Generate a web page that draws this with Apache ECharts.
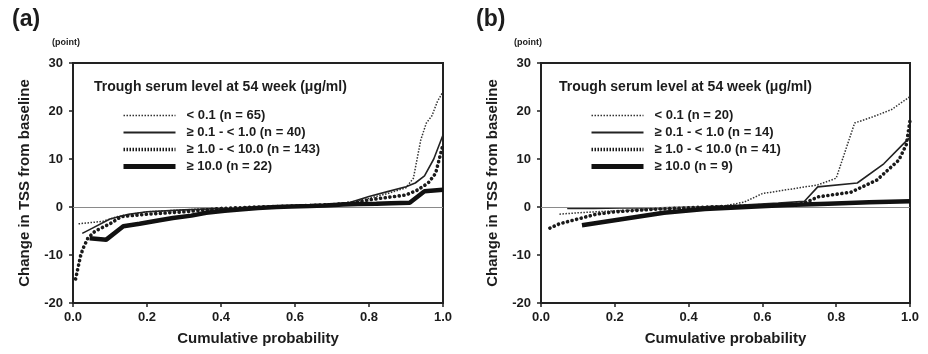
<!DOCTYPE html>
<html>
<head>
<meta charset="utf-8">
<script src="https://cdn.jsdelivr.net/npm/echarts@6/dist/echarts.min.js"></script>
<style>
html,body{margin:0;padding:0;background:#fff;}
#c{width:928px;height:354px;}
</style>
</head>
<body>
<div id="c"></div>
<script>
// ---- tick labels ----
const xTicks = [0.0, 0.2, 0.4, 0.6, 0.8, 1.0];
const yTicks = [-20, -10, 0, 10, 20, 30];

// ---- panel (a) series names ----
const namesA = ['< 0.1 (n = 65)', '≥ 0.1 - < 1.0 (n = 40)', '≥ 1.0 - < 10.0 (n = 143)', '≥ 10.0 (n = 22)'];
// ---- panel (b) series names ----
const namesB = ['< 0.1 (n = 20)', '≥ 0.1 - < 1.0 (n = 14)', '≥ 1.0 - < 10.0 (n = 41)', '≥ 10.0 (n = 9)'];

// ---- panel (a) data: [cumulative probability, change in TSS] ----
const a_lt01 = [[0.015,-3.5],[0.08,-3.0],[0.12,-2.0],[0.2,-1.0],[0.3,-0.6],[0.4,-0.2],[0.5,0],[0.6,0.2],[0.7,0.5],[0.75,1.0],[0.8,1.8],[0.85,2.8],[0.9,4.0],[0.92,6.0],[0.94,14.0],[0.955,17.5],[0.97,19.0],[0.985,22.0],[1.0,24.0]];
const a_01to1 = [[0.025,-5.5],[0.05,-4.5],[0.1,-2.5],[0.15,-1.5],[0.2,-1.0],[0.3,-0.6],[0.4,-0.3],[0.5,0],[0.6,0.2],[0.7,0.5],[0.75,1.0],[0.8,2.2],[0.85,3.2],[0.9,4.2],[0.925,5.0],[0.95,6.5],[0.975,10.0],[1.0,15.0]];
const a_1to10 = [[0.007,-15],[0.014,-12.5],[0.021,-10],[0.028,-8.5],[0.04,-6.5],[0.06,-5],[0.1,-3.5],[0.13,-2],[0.2,-1.5],[0.3,-1],[0.4,-0.3],[0.5,0],[0.6,0.2],[0.7,0.5],[0.75,0.8],[0.8,1.5],[0.85,2],[0.9,2.5],[0.93,3.5],[0.96,5],[0.98,7],[0.99,10],[1.0,13]];
const a_ge10 = [[0.045,-6.5],[0.09,-6.8],[0.136,-4.0],[0.18,-3.5],[0.23,-2.8],[0.27,-2.3],[0.32,-1.8],[0.36,-1.2],[0.41,-0.8],[0.45,-0.5],[0.5,-0.2],[0.55,0],[0.59,0.1],[0.64,0.2],[0.68,0.3],[0.73,0.5],[0.77,0.6],[0.82,0.7],[0.86,0.8],[0.91,0.9],[0.95,3.3],[1.0,3.6]];

// ---- panel (b) data ----
const b_lt01 = [[0.05,-1.5],[0.1,-1.2],[0.2,-0.8],[0.3,-0.5],[0.4,-0.2],[0.5,0.3],[0.55,1.0],[0.6,2.8],[0.7,4.0],[0.75,4.6],[0.8,6.0],[0.85,17.5],[0.9,18.8],[0.95,20.3],[1.0,23.0]];
const b_01to1 = [[0.071,-0.3],[0.143,-0.3],[0.214,-0.2],[0.286,-0.2],[0.357,-0.1],[0.429,0],[0.5,0.2],[0.571,0.5],[0.643,0.8],[0.714,1.2],[0.75,4.2],[0.857,5.0],[0.929,9.0],[0.98,13.0],[1.0,14.5]];
const b_1to10 = [[0.024,-4.4],[0.05,-3.5],[0.1,-2.5],[0.15,-1.5],[0.2,-1.0],[0.3,-0.5],[0.45,0],[0.6,0.3],[0.7,0.6],[0.72,1.0],[0.75,2.1],[0.84,3.1],[0.91,5.6],[0.97,9.8],[0.99,13.0],[1.0,18.0]];
const b_ge10 = [[0.111,-3.8],[0.222,-2.5],[0.333,-1.2],[0.444,-0.4],[0.556,0],[0.667,0.4],[0.778,0.7],[0.889,1.0],[1.0,1.2]];

const FONT = 'Liberation Sans';
const DARK = '#1c1c1c';

const styles = [
  {width:1.5, type:[1.5,1.5], color:'#333', cap:'butt'},
  {width:1.6, type:'solid', color:'#222', cap:'butt'},
  {width:3.6, type:[0.1,4.6], color:'#1a1a1a', cap:'round'},
  {width:4.5, type:'solid', color:'#111', cap:'butt'}
];
const legendStyles = [
  {width:1.5, type:[1.5,1.5], color:'#333', cap:'butt'},
  {width:1.8, type:'solid', color:'#222', cap:'butt'},
  {width:3.5, type:[1.5,1.5], color:'#1a1a1a', cap:'butt'},
  {width:5, type:'solid', color:'#111', cap:'butt'}
];

function mkSeries(names, datas, idx){
  return datas.map((d,i)=>{
    const s = {
      name: names[i], type:'line', xAxisIndex:idx, yAxisIndex:idx,
      data:d, symbol:'none', smooth:false, z: 3+i,
      lineStyle: Object.assign({}, styles[i]),
      itemStyle:{color:styles[i].color},
      emphasis:{disabled:true}
    };
    if(i===0){
      s.markLine = {silent:true, symbol:'none', label:{show:false},
        lineStyle:{color:'#8a8a8a', width:1, type:'solid'},
        data:[{yAxis:0}]};
    }
    return s;
  });
}

function xAx(gi){
  return {type:'value', gridIndex:gi, min:0, max:1, interval:0.2,
    name:'Cumulative probability', nameLocation:'middle', nameGap:28,
    nameTextStyle:{fontFamily:FONT, fontWeight:'bold', fontSize:15, color:DARK},
    axisLine:{show:true, onZero:false, lineStyle:{color:'#222', width:2}},
    axisTick:{show:true, length:4, lineStyle:{color:'#222', width:1.5}},
    axisLabel:{fontFamily:FONT, fontWeight:'bold', fontSize:13, color:DARK, margin:8,
      formatter:v=>v.toFixed(1)},
    splitLine:{show:false}};
}
function yAx(gi){
  return {type:'value', gridIndex:gi, min:-20, max:30, interval:10,
    name:'Change in TSS from baseline', nameLocation:'middle', nameGap:41, nameRotate:90,
    nameTextStyle:{fontFamily:FONT, fontWeight:'bold', fontSize:15, color:DARK},
    axisLine:{show:true, onZero:false, lineStyle:{color:'#222', width:2}},
    axisTick:{show:true, length:4, lineStyle:{color:'#222', width:1.5}},
    axisLabel:{fontFamily:FONT, fontWeight:'bold', fontSize:13, color:DARK, margin:10},
    splitLine:{show:false}};
}

function mkLegend(names, left){
  return {orient:'vertical', left:left, top:104, itemWidth:52, itemHeight:14, itemGap:4,
    data:names.map((n,i)=>({name:n, lineStyle:Object.assign({}, legendStyles[i]),
      itemStyle:{opacity:0, borderWidth:0}})),
    selectedMode:false,
    textStyle:{fontFamily:FONT, fontWeight:'bold', fontSize:13, color:DARK, padding:[0,0,0,6]},
    itemStyle:{opacity:0, borderWidth:0}};
}

const chart = echarts.init(document.getElementById('c'), null, {renderer:'canvas'});
chart.setOption({
  backgroundColor:'#fff',
  animation:false,
  grid:[
    {left:73, top:63, width:370, height:240, show:true, borderColor:'#222', borderWidth:2},
    {left:541, top:63, width:369, height:240, show:true, borderColor:'#222', borderWidth:2}
  ],
  xAxis:[xAx(0), xAx(1)],
  yAxis:[yAx(0), yAx(1)],
  legend:[mkLegend(namesA, 116), mkLegend(namesB, 584)],
  graphic:[
    {type:'text', left:12, top:8, style:{text:'(a)', font:'bold 23px "Liberation Sans"', fill:DARK}},
    {type:'text', left:52, top:38, style:{text:'(point)', font:'bold 9px "Liberation Sans"', fill:DARK}},
    {type:'text', left:476, top:8, style:{text:'(b)', font:'bold 23px "Liberation Sans"', fill:DARK}},
    {type:'text', left:514, top:38, style:{text:'(point)', font:'bold 9px "Liberation Sans"', fill:DARK}},
    {type:'text', left:94, top:80, style:{text:'Trough serum level at 54 week (μg/ml)', font:'bold 14px "Liberation Sans"', fill:DARK}},
    {type:'text', left:559, top:80, style:{text:'Trough serum level at 54 week (μg/ml)', font:'bold 14px "Liberation Sans"', fill:DARK}}
  ],
  series:[].concat(
    mkSeries(namesA, [a_lt01, a_01to1, a_1to10, a_ge10], 0),
    mkSeries(namesB, [b_lt01, b_01to1, b_1to10, b_ge10], 1)
  )
});
</script>
</body>
</html>
